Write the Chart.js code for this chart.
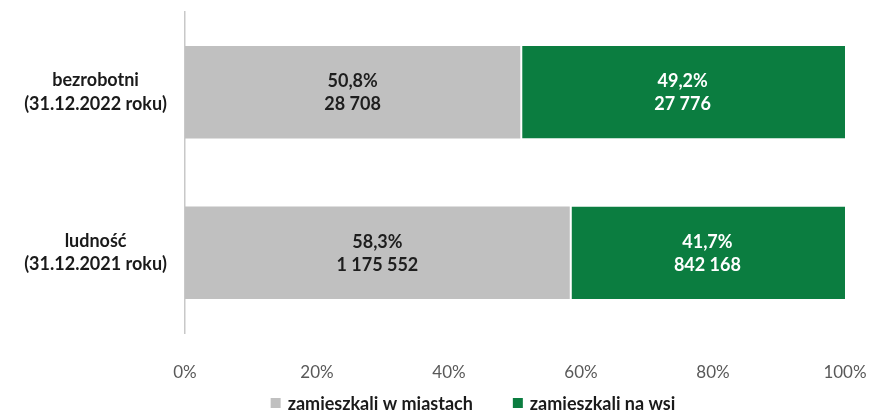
<!DOCTYPE html>
<html>
<head>
<meta charset="utf-8">
<script src="https://cdn.jsdelivr.net/npm/chart.js@4/dist/chart.umd.min.js"></script>
<style>
    html, body { margin: 0; padding: 0; background: #fff; }
    #wrap { width: 872px; height: 412px; }
</style>
</head>
<body>
<div id="wrap"><canvas id="bar-chart"></canvas></div>
<script>
const categories = [['bezrobotni', '(31.12.2022 roku)'], ['ludność', '(31.12.2021 roku)']];
const seriesNames = ['zamieszkali w miastach', 'zamieszkali na wsi'];
const cityPercent = [50.8, 58.3];
const villagePercent = [49.2, 41.7];
const cityCount = [28708, 1175552];
const villageCount = [27776, 842168];
const tickValues = [0, 20, 40, 60, 80, 100];

const FONT = 'Lato, "Open Sans", sans-serif';

function formatCount(n) {
    return String(n).replace(/\B(?=(\d{3})+(?!\d))/g, ' ');
}
function formatPercent(p) {
    return p.toFixed(1).replace('.', ',') + '%';
}

// labels inside the bars: percentage on top, count below
const barLabels = {
    id: 'barLabels',
    afterDatasetsDraw(chart) {
        const ctx = chart.ctx;
        const counts = [cityCount, villageCount];
        ctx.save();
        ctx.font = 'bold 18px ' + FONT;
        ctx.textAlign = 'center';
        ctx.textBaseline = 'middle';
        chart.data.datasets.forEach((ds, i) => {
            ctx.fillStyle = i === 0 ? '#1e1e1e' : '#ffffff';
            chart.getDatasetMeta(i).data.forEach((el, j) => {
                const x = (el.x + el.base) / 2;
                ctx.fillText(formatPercent(ds.data[j]), x, el.y - 11);
                ctx.fillText(formatCount(counts[i][j]), x, el.y + 12);
            });
        });
        ctx.restore();
    }
};

// legend at the bottom, drawn by hand so spacing matches
const bottomLegend = {
    id: 'bottomLegend',
    afterDraw(chart) {
        const ctx = chart.ctx;
        ctx.save();
        ctx.font = 'bold 18px ' + FONT;
        ctx.textBaseline = 'middle';
        ctx.textAlign = 'left';
        const box = 10, gapText = 7, gapItem = 40;
        const widths = chart.data.datasets.map(ds => box + gapText + ctx.measureText(ds.label).width);
        const total = widths.reduce((a, b) => a + b, 0) + gapItem * (widths.length - 1);
        let x = 473 - total / 2;
        const y = 403;
        chart.data.datasets.forEach((ds, i) => {
            ctx.fillStyle = ds.backgroundColor;
            ctx.fillRect(x, y - box / 2, box, box);
            ctx.fillStyle = '#1a1a1a';
            ctx.fillText(ds.label, x + box + gapText, y + 1);
            x += widths[i] + gapItem;
        });
        ctx.restore();
    }
};

const ctx = document.getElementById('bar-chart').getContext('2d');
const barChart = new Chart(ctx, {
    type: 'bar',
    data: {
        labels: categories,
        datasets: [{
            label: seriesNames[0],
            data: cityPercent,
            backgroundColor: '#c0c0c0',
            borderWidth: 0
        }, {
            label: seriesNames[1],
            data: villagePercent,
            backgroundColor: '#0b7d40',
            borderColor: '#ffffff',
            borderWidth: { left: 2, right: 0, top: 0, bottom: 0 },
            borderSkipped: false
        }]
    },
    options: {
        indexAxis: 'y',
        responsive: true,
        maintainAspectRatio: false,
        animation: false,
        layout: {
            padding: { top: 12, right: 27, bottom: 0, left: 0 }
        },
        datasets: {
            bar: { barPercentage: 0.575, categoryPercentage: 1 }
        },
        plugins: {
            legend: { display: false },
            tooltip: { enabled: false }
        },
        scales: {
            x: {
                stacked: true,
                min: 0,
                max: 100,
                afterBuildTicks: scale => {
                    scale.ticks = tickValues.map(v => ({ value: v }));
                },
                afterFit: scale => {
                    scale.height = 79;
                    scale.paddingLeft = 0;
                    scale.paddingRight = 0;
                },
                grid: { display: false },
                border: { display: false },
                ticks: {
                    padding: 21,
                    color: '#595959',
                    font: { family: FONT, size: 17 },
                    callback: v => v + '%'
                }
            },
            y: {
                stacked: true,
                afterFit: scale => {
                    scale.width = 185;
                    scale.paddingTop = 0;
                    scale.paddingBottom = 0;
                },
                grid: { display: false },
                border: { display: true, color: '#c8c8c8', width: 1.5 },
                ticks: {
                    crossAlign: 'center',
                    padding: 10,
                    color: '#1a1a1a',
                    font: { family: FONT, size: 18, weight: 'bold', lineHeight: 1.3 }
                }
            }
        }
    },
    plugins: [barLabels, bottomLegend]
});
</script>
</body>
</html>
